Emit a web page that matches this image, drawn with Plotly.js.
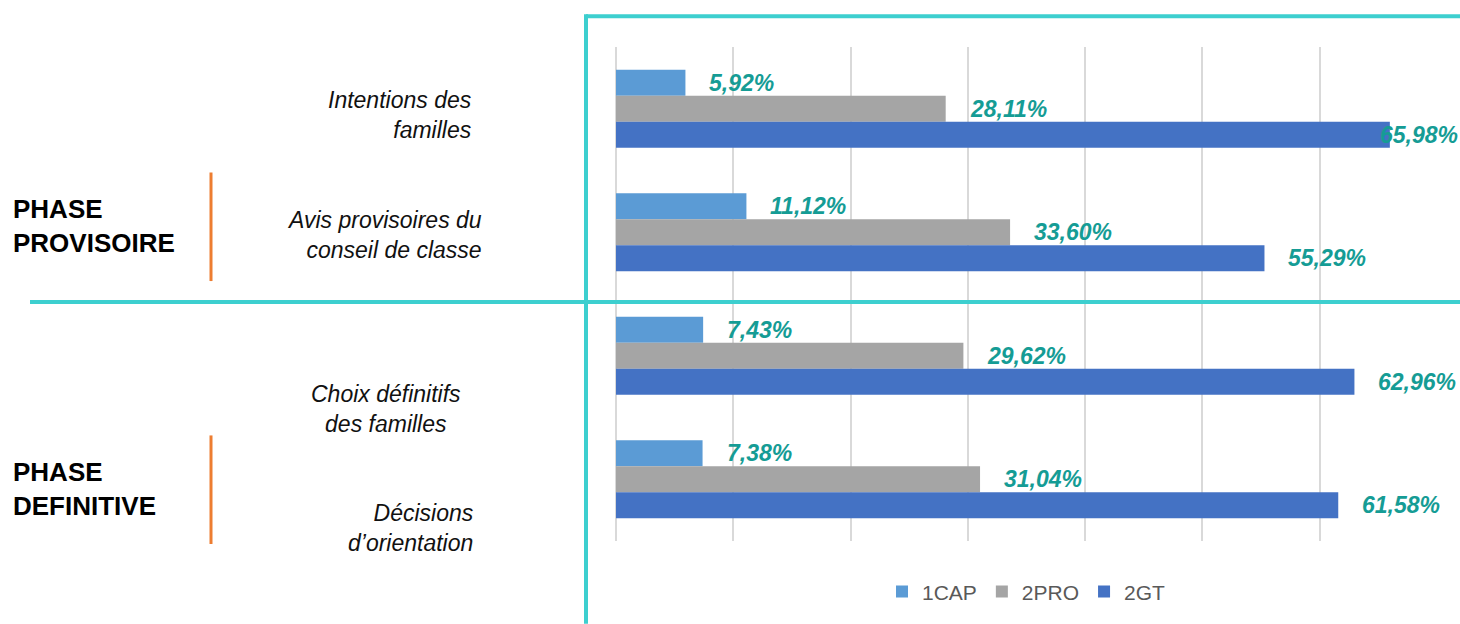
<!DOCTYPE html>
<html>
<head>
<meta charset="utf-8">
<script src="https://cdn.plot.ly/plotly-3.0.1.min.js"></script>
<style>
  html, body { margin: 0; padding: 0; background: #fff; }
  #chart { width: 1460px; height: 624px; }
</style>
</head>
<body>
<div id="chart"></div>
<script>
// categories (top to bottom) and the three series, in %
const categories = ['Intentions des familles', 'Avis provisoires du conseil de classe',
                    'Choix définitifs des familles', 'Décisions d’orientation'];
const catText = ['Intentions des<br>familles', 'Avis provisoires du<br>conseil de classe',
                 'Choix définitifs<br>des familles', 'Décisions<br>d’orientation'];
const seriesNames = ['1CAP', '2PRO', '2GT'];
const cap1 = [5.92, 11.12, 7.43, 7.38];
const pro2 = [28.11, 33.60, 29.62, 31.04];
const gt2 = [65.98, 55.29, 62.96, 61.58];
const phases = ['PHASE<br>PROVISOIRE', 'PHASE<br>DEFINITIVE'];

const colors = ['#5B9BD5', '#A5A5A5', '#4472C4'];
const teal = '#3DCFCF';
const orange = '#ED7D31';
const labelColor = '#159C95';
const font = '"Liberation Sans", Arial, sans-serif';

// plot area in pixels
const W = 1460, H = 624;
const L = 616, R = 23, T = 47, B = 81;
const pw = W - L - R, ph = H - T - B;
const px = x => (x - L) / pw;          // pixel -> paper x
const py = y => (H - B - y) / ph;      // pixel -> paper y
const xMax = 70;

const fmt = v => v.toFixed(2).replace('.', ',') + '%';

const allSeries = [cap1, pro2, gt2];
const traces = allSeries.map((vals, i) => ({
  type: 'bar',
  orientation: 'h',
  name: seriesNames[i],
  x: vals,
  y: categories,
  marker: { color: colors[i], line: { width: 0 } },
  hoverinfo: 'x+name'
}));

const annotations = [];
// value labels
allSeries.forEach((vals, i) => {
  vals.forEach((v, j) => {
    const tooWide = v > 64;
    annotations.push({
      xref: 'x', yref: 'y',
      x: tooWide ? xMax : v,
      y: categories[j],
      xanchor: tooWide ? 'right' : 'left',
      xshift: tooWide ? 23 : 22,
      yshift: (1 - i) * 26,
      yanchor: 'middle',
      text: fmt(v),
      showarrow: false,
      font: { family: font, size: 23, color: labelColor, weight: 'bold', style: 'italic' }
    });
  });
});

// category labels on the left
const catPos = [[474, 115, 'right'], [484, 236, 'right'], [386, 410, 'center'], [476, 530, 'right']];
catText.forEach((t, j) => {
  const [cx, cy, al] = catPos[j];
  annotations.push({
    xref: 'paper', yref: 'paper',
    x: px(cx), y: py(cy),
    xanchor: al, yanchor: 'middle', align: al,
    text: t, showarrow: false,
    font: { family: font, size: 23, color: '#111', style: 'italic' }
  });
});

// phase labels
[227, 491].forEach((cy, k) => {
  annotations.push({
    xref: 'paper', yref: 'paper',
    x: px(11), y: py(cy),
    xanchor: 'left', yanchor: 'middle', align: 'left',
    text: '<b>' + phases[k] + '</b>', showarrow: false,
    font: { family: font, size: 26, color: '#000' }
  });
});

const line = (x0, y0, x1, y1, color, width) => ({
  type: 'line', xref: 'paper', yref: 'paper',
  x0: px(x0), y0: py(y0), x1: px(x1), y1: py(y1),
  line: { color: color, width: width }, layer: 'above'
});

const shapes = [
  line(586, 16, 1462, 16, teal, 4),
  line(586, 14, 586, 626, teal, 4),
  line(30, 303, 1462, 303, teal, 4),
  line(211, 173, 211, 282, orange, 3),
  line(211, 437, 211, 546, orange, 3)
];

const layout = {
  width: W, height: H,
  margin: { l: L, r: R, t: T, b: B, pad: 0 },
  paper_bgcolor: '#fff', plot_bgcolor: '#fff',
  font: { family: font, color: '#595959' },
  barmode: 'group',
  bargap: 0.37,
  bargroupgap: 0,
  xaxis: {
    range: [0, xMax], dtick: 10, showticklabels: false,
    showgrid: true, gridcolor: '#D9D9D9', gridwidth: 2,
    zeroline: true, zerolinecolor: '#D9D9D9', zerolinewidth: 2,
    showline: false, ticks: '', fixedrange: true
  },
  yaxis: {
    type: 'category', autorange: 'reversed',
    showticklabels: false, showgrid: false, zeroline: false,
    showline: false, ticks: '', fixedrange: true
  },
  showlegend: true,
  legend: {
    orientation: 'h', x: 0.5, xanchor: 'center', y: py(594), yanchor: 'middle',
    font: { family: font, size: 21, color: '#595959' },
    itemwidth: 30, traceorder: 'normal'
  },
  annotations: annotations,
  shapes: shapes
};

Plotly.newPlot('chart', traces, layout, { displayModeBar: false, staticPlot: true });
</script>
</body>
</html>
